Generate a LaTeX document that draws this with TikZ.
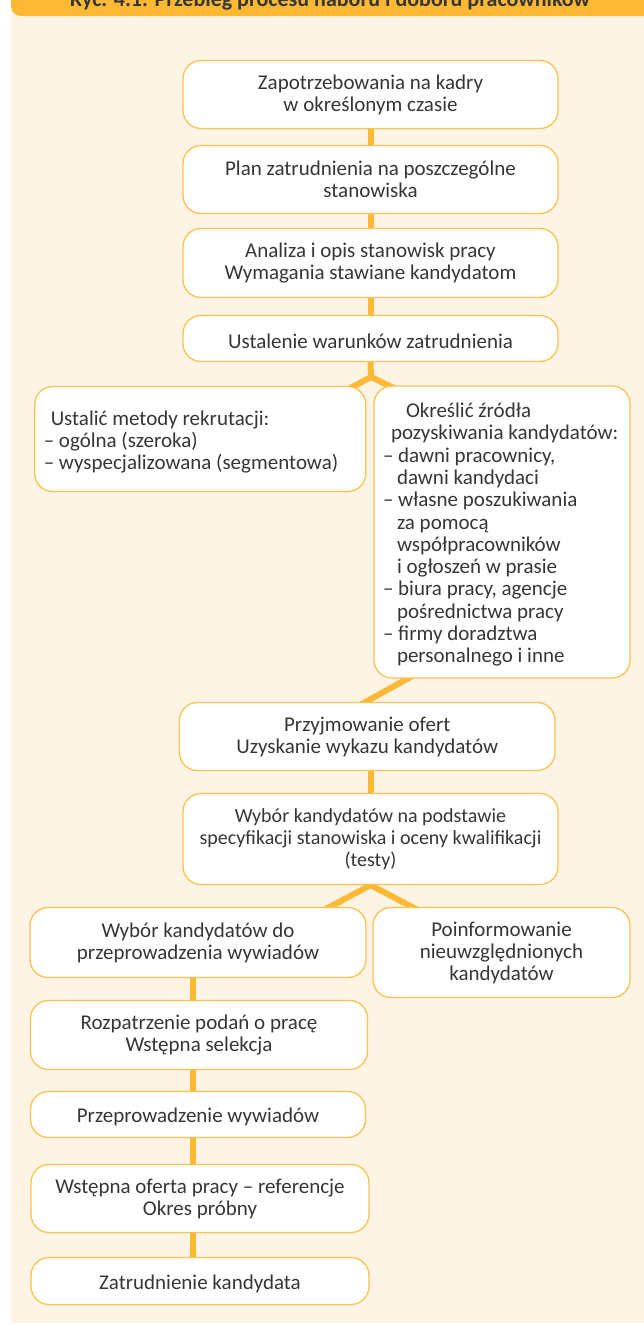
\documentclass[tikz,border=0pt]{standalone}
\usepackage{fontspec}
\setmainfont{Carlito}
\usetikzlibrary{calc}
\definecolor{cream}{HTML}{FEF4E6}
\definecolor{orangeA}{HTML}{FDB933}
\definecolor{boxline}{HTML}{FCC251}
\definecolor{txt}{HTML}{363636}
\pgfdeclarelayer{bg}
\pgfdeclarelayer{lines}
\pgfsetlayers{bg,lines,main}
\tikzset{
  box/.style={draw=boxline, line width=1.3pt, fill=white, rounded corners=18pt,
    text=txt, font=\fontsize{21pt}{22pt}\selectfont, align=center, inner sep=0pt,
    execute at begin node={\rule{0pt}{20pt}}},
  listbox/.style={box, align=flush left},
  conn/.style={draw=orangeA, line width=6pt},
  titletext/.style={font=\bfseries\fontsize{22pt}{24pt}\selectfont, text=txt, anchor=base, inner sep=0pt}
}
\begin{document}
\begin{tikzpicture}[x=1pt,y=-1pt]
\useasboundingbox (0,0) rectangle (644,1325);
\begin{pgfonlayer}{bg}
  \fill[white] (0,0) rectangle (644,1325);
  \fill[cream] (11,10) rectangle (660,1323);
  \fill[orangeA, rounded corners=10pt] (11,-40) rectangle (680,16);
\end{pgfonlayer}
\begin{scope}
  \clip (0,0) rectangle (644,16);
  \node[titletext] (title) at (330,6) {Ryc. 4.1. Przebieg procesu naboru i doboru pracowników};
\end{scope}

\node[box, minimum width=375pt, minimum height=68pt] (b1) at (370.5,94.5) {Zapotrzebowania na kadry\\w określonym czasie};
\node[box, minimum width=375pt, minimum height=68pt] (b2) at (370.5,179.5) {Plan zatrudnienia na poszczególne\\stanowiska};
\node[box, minimum width=375pt, minimum height=69pt] (b3) at (370.5,263) {Analiza i opis stanowisk pracy\\Wymagania stawiane kandydatom};
\node[box, minimum width=375pt, minimum height=46pt] (b4) at (370.5,338.5) {Ustalenie warunków zatrudnienia};
\node[listbox, minimum width=331pt, minimum height=105pt, text width=313pt] (b5) at (200.25,439)
  {\hspace*{7pt}Ustalić metody rekrutacji:\\– ogólna (szeroka)\\– wyspecjalizowana (segmentowa)};
\node[listbox, minimum width=256pt, minimum height=292pt, text width=238pt,
      font=\fontsize{21pt}{22.3pt}\selectfont] (b6) at (502,532)
  {\hspace*{23pt}Określić źródła\\
   \hspace*{8pt}pozyskiwania kandydatów:\\
   – dawni pracownicy,\\
   \hspace*{14pt}dawni kandydaci\\
   – własne poszukiwania\\
   \hspace*{14pt}za pomocą\\
   \hspace*{14pt}współpracowników\\
   \hspace*{14pt}i ogłoszeń w prasie\\
   – biura pracy, agencje\\
   \hspace*{14pt}pośrednictwa pracy\\
   – firmy doradztwa\\
   \hspace*{14pt}personalnego i inne};
\node[box, minimum width=375.5pt, minimum height=68pt] (b7) at (367.25,736.5) {Przyjmowanie ofert\\Uzyskanie wykazu kandydatów};
\node[box, minimum width=375pt, minimum height=91pt, font=\fontsize{20pt}{22pt}\selectfont] (b8) at (370.5,839) {Wybór kandydatów na podstawie\\specyfikacji stanowiska i oceny kwalifikacji\\(testy)};
\node[box, minimum width=336pt, minimum height=70pt] (b9) at (198,942.5) {Wybór kandydatów do\\przeprowadzenia wywiadów};
\node[box, minimum width=257pt, minimum height=90pt] (b10) at (501.5,952.5) {Poinformowanie\\nieuwzględnionych\\kandydatów};
\node[box, minimum width=337pt, minimum height=69pt] (b11) at (199,1035) {Rozpatrzenie podań o pracę\\Wstępna selekcja};
\node[box, minimum width=335pt, minimum height=46pt] (b12) at (198,1114.5) {Przeprowadzenie wywiadów};
\node[box, minimum width=338pt, minimum height=68pt] (b13) at (200,1198.5) {Wstępna oferta pracy – referencje\\Okres próbny};
\node[box, minimum width=338pt, minimum height=47pt] (b14) at (200,1281) {Zatrudnienie kandydata};

\coordinate (f1) at (371,377);
\coordinate (f1l) at (345,391);
\coordinate (f1r) at (400,391);
\coordinate (d1) at (416,674);
\coordinate (d2) at (360,705);
\coordinate (f2l) at (325,909.5);
\coordinate (f2r) at (417,909.5);
\coordinate (vx) at (193,0);

\begin{pgfonlayer}{lines}
  \draw[conn] (b1.south) -- (b2.north);
  \draw[conn] (b2.south) -- (b3.north);
  \draw[conn] (b3.south) -- (b4.north);
  \draw[conn] (b4.south) -- (f1);
  \draw[conn] (f1l) -- (f1) -- (f1r);
  \draw[conn] (d1) -- (d2);
  \draw[conn] (b7.south -| b8.north) -- (b8.north);
  \draw[conn] (f2l) -- (b8.south) -- (f2r);
  \draw[conn] (b9.south -| vx) -- (b11.north -| vx);
  \draw[conn] (b11.south -| vx) -- (b12.north -| vx);
  \draw[conn] (b12.south -| vx) -- (b13.north -| vx);
  \draw[conn] (b13.south -| vx) -- (b14.north -| vx);
\end{pgfonlayer}
\end{tikzpicture}
\end{document}
